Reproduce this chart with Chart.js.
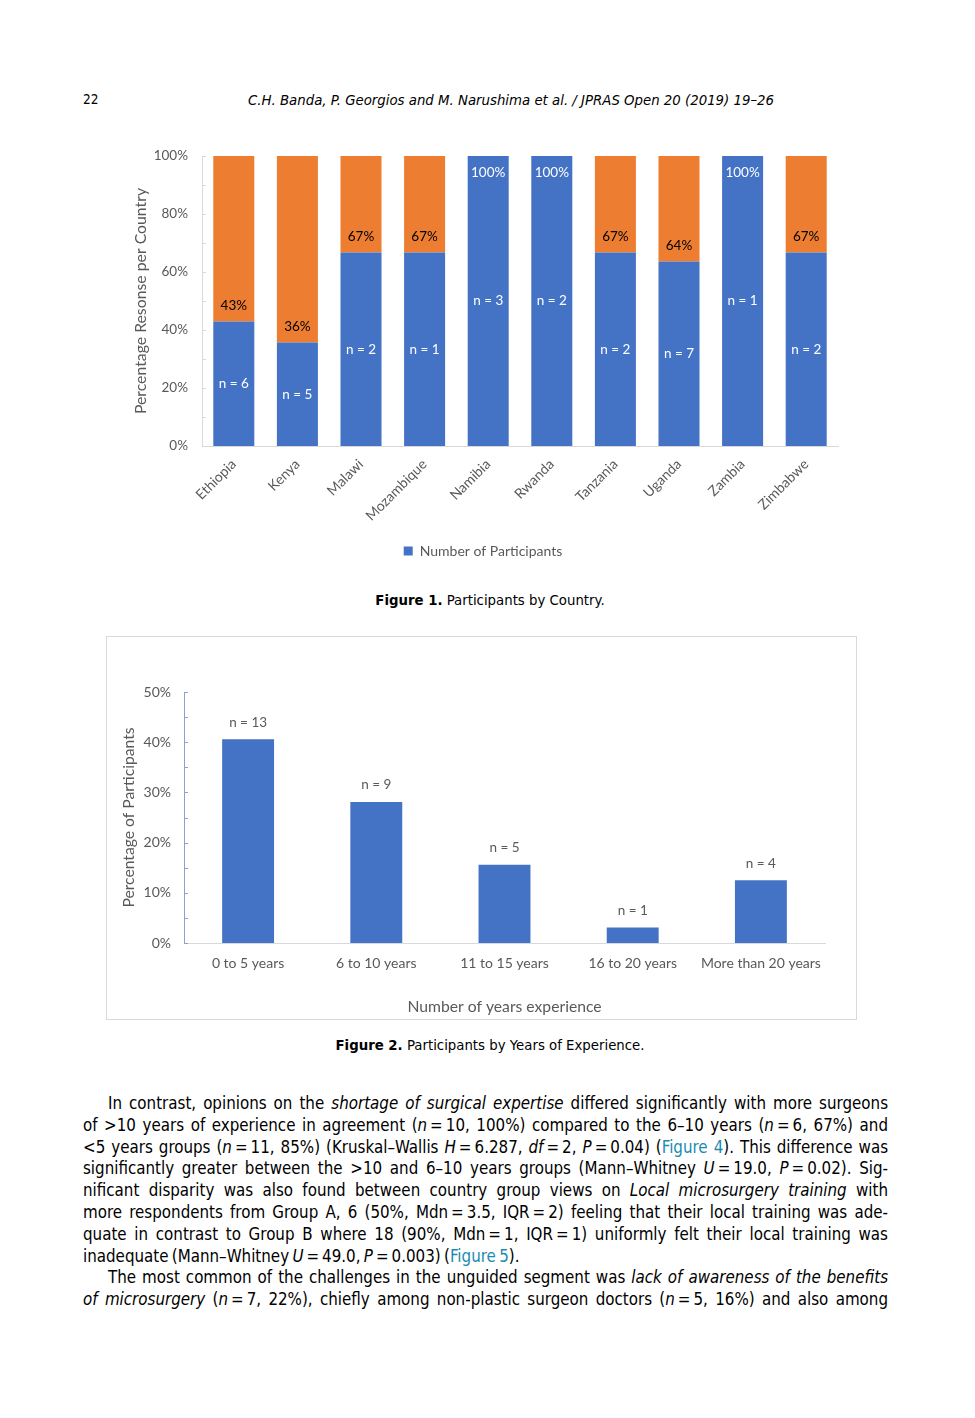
<!DOCTYPE html>
<html>
<head>
<meta charset="utf-8">
<script src="https://cdn.jsdelivr.net/npm/chart.js@4/dist/chart.umd.min.js"></script>
<style>
  html, body { margin: 0; padding: 0; background: #fff; }
  body { width: 975px; height: 1418px; position: relative; font-family: "DejaVu Sans", sans-serif; color: #000; }
  .abs { position: absolute; }
  #pageNum { left: 83px; top: 91px; font: 13.5px "DejaVu Sans Condensed", "DejaVu Sans"; }
  #runHead { left: 0; width: 1022px; top: 91px; text-align: center; font: italic 14.8px "DejaVu Sans Condensed", "DejaVu Sans"; }
  .caption { left: 0; width: 980px; text-align: center; font-size: 13.3px; }
  #chart1Box { left: 100px; top: 130px; width: 760px; height: 438px; }
  #chart2Frame { left: 106px; top: 636px; width: 749px; height: 382px; border: 1px solid #d9d9d9; }
  #chart2Box { left: 106px; top: 636px; width: 751px; height: 384px; }
  #body { left: 83px; top: 1093px; width: 805px; font: 16.8px "DejaVu Sans Condensed", "DejaVu Sans"; line-height: 21.8px; word-spacing: -1.5px; }
  #body .ln { text-align: justify; text-align-last: justify; white-space: nowrap; }
  #body .last { text-align-last: left; }
  #body .ind { padding-left: 25px; }
  #body a { color: #1b8bb0; text-decoration: none; }
</style>
</head>
<body>
<div id="pageNum" class="abs">22</div>
<div id="runHead" class="abs">C.H. Banda, P. Georgios and M. Narushima et al. / JPRAS Open 20 (2019) 19–26</div>

<div id="chart1Box" class="abs"><canvas id="chart1"></canvas></div>
<div class="abs caption" style="top:593px;"><b>Figure 1.</b> Participants by Country.</div>

<div id="chart2Frame" class="abs"></div>
<div id="chart2Box" class="abs"><canvas id="chart2"></canvas></div>
<div class="abs caption" style="top:1038px;"><b>Figure 2.</b> Participants by Years of Experience.</div>

<div id="body" class="abs">
  <div class="ln ind">In contrast, opinions on the <i>shortage of surgical expertise</i> differed significantly with more surgeons</div>
  <div class="ln">of &gt;10 years of experience in agreement (<i>n</i>&thinsp;=&thinsp;10, 100%) compared to the 6–10 years (<i>n</i>&thinsp;=&thinsp;6, 67%) and</div>
  <div class="ln">&lt;5 years groups (<i>n</i>&thinsp;=&thinsp;11, 85%) (Kruskal–Wallis <i>H</i>&thinsp;=&thinsp;6.287, <i>df</i>&thinsp;=&thinsp;2, <i>P</i>&thinsp;=&thinsp;0.04) (<a>Figure 4</a>). This difference was</div>
  <div class="ln">significantly greater between the &gt;10 and 6–10 years groups (Mann–Whitney <i>U</i>&thinsp;=&thinsp;19.0, <i>P</i>&thinsp;=&thinsp;0.02). Sig-</div>
  <div class="ln">nificant disparity was also found between country group views on <i>Local microsurgery training</i> with</div>
  <div class="ln">more respondents from Group A, 6 (50%, Mdn&thinsp;=&thinsp;3.5, IQR&thinsp;=&thinsp;2) feeling that their local training was ade-</div>
  <div class="ln">quate in contrast to Group B where 18 (90%, Mdn&thinsp;=&thinsp;1, IQR&thinsp;=&thinsp;1) uniformly felt their local training was</div>
  <div class="ln last">inadequate (Mann–Whitney <i>U</i>&thinsp;=&thinsp;49.0, <i>P</i>&thinsp;=&thinsp;0.003) (<a>Figure 5</a>).</div>
  <div class="ln ind">The most common of the challenges in the unguided segment was <i>lack of awareness of the benefits</i></div>
  <div class="ln"><i>of microsurgery</i> (<i>n</i>&thinsp;=&thinsp;7, 22%), chiefly among non-plastic surgeon doctors (<i>n</i>&thinsp;=&thinsp;5, 16%) and also among</div>
</div>

<script>
// Figure 1 data
const countries = ['Ethiopia', 'Kenya', 'Malawi', 'Mozambique', 'Namibia', 'Rwanda', 'Tanzania', 'Uganda', 'Zambia', 'Zimbabwe'];
const countryPct = [42.9, 35.7, 66.7, 66.7, 100, 100, 66.7, 63.6, 100, 66.7];
const countryRest = [57.1, 64.3, 33.3, 33.3, 0, 0, 33.3, 36.4, 0, 33.3];
const countryN = [6, 5, 2, 1, 3, 2, 2, 7, 1, 2];
const countryPctLabels = ['43%', '36%', '67%', '67%', '100%', '100%', '67%', '64%', '100%', '67%'];

// Figure 2 data
const yearGroups = ['0 to 5 years', '6 to 10 years', '11 to 15 years', '16 to 20 years', 'More than 20 years'];
const yearPct = [40.6, 28.1, 15.6, 3.1, 12.5];
const yearN = [13, 9, 5, 1, 4];

const BLUE = '#4472C4';
const ORANGE = '#ED7D31';
const GREY_TEXT = '#595959';
const FONT = 'Lato, "Open Sans", sans-serif';

// small tick marks drawn inward from the y axis line
const innerTicks = {
  id: 'innerTicks',
  afterDraw(chart, args, opts) {
    const { ctx } = chart;
    const y = chart.scales.y;
    ctx.save();
    ctx.strokeStyle = opts.color;
    ctx.lineWidth = 1;
    for (let v = y.min; v <= y.max; v += opts.step) {
      const py = Math.round(y.getPixelForValue(v)) + 0.5;
      ctx.beginPath();
      ctx.moveTo(chart.chartArea.left, py);
      ctx.lineTo(chart.chartArea.left + opts.len, py);
      ctx.stroke();
    }
    ctx.restore();
  }
};

// labels for figure 1: n inside blue, % above the split
const countryLabels = {
  id: 'countryLabels',
  afterDatasetsDraw(chart) {
    const { ctx } = chart;
    const bars = chart.getDatasetMeta(0).data;
    ctx.save();
    ctx.font = '13.5px ' + FONT;
    ctx.textAlign = 'center';
    ctx.textBaseline = 'middle';
    bars.forEach((bar, i) => {
      ctx.fillStyle = '#ffffff';
      ctx.fillText('n = ' + countryN[i], bar.x, (bar.y + bar.base) / 2);
      if (countryPct[i] >= 100) {
        ctx.fillText(countryPctLabels[i], bar.x, bar.y + 17);
      } else {
        ctx.fillStyle = '#000000';
        ctx.fillText(countryPctLabels[i], bar.x, bar.y - 16);
      }
    });
    ctx.restore();
  }
};

new Chart(document.getElementById('chart1'), {
  type: 'bar',
  data: {
    labels: countries,
    datasets: [
      { label: 'Number of Participants', data: countryPct, backgroundColor: BLUE, barPercentage: 0.645, categoryPercentage: 1 },
      { label: 'Remaining', data: countryRest, backgroundColor: ORANGE, barPercentage: 0.645, categoryPercentage: 1 }
    ]
  },
  options: {
    responsive: true,
    maintainAspectRatio: false,
    animation: false,
    layout: { padding: { left: 28, top: 26, right: 22, bottom: 0 } },
    scales: {
      x: {
        stacked: true,
        grid: { display: false, drawTicks: false },
        border: { color: '#d9d9d9' },
        ticks: { color: GREY_TEXT, font: { family: FONT, size: 14 }, minRotation: 45, maxRotation: 45, autoSkip: false, padding: 10 },
        afterFit(scale) { scale.height = 88; }
      },
      y: {
        stacked: true,
        min: 0, max: 100,
        grid: { display: false, drawTicks: false },
        border: { color: '#d9d9d9' },
        ticks: { stepSize: 20, color: GREY_TEXT, font: { family: FONT, size: 13.5 }, padding: 14, callback: (v) => v + '%' },
        title: { display: true, text: 'Percentage Resonse per Country', color: GREY_TEXT, font: { family: FONT, size: 15.8 }, padding: { top: 3 } },
        afterFit(scale) { scale.width = 74; }
      }
    },
    plugins: {
      legend: {
        position: 'bottom',
        labels: {
          color: GREY_TEXT,
          font: { family: FONT, size: 14 },
          boxWidth: 9, boxHeight: 9, padding: 10,
          filter: (item) => item.datasetIndex === 0
        }
      },
      tooltip: { enabled: false },
      innerTicks: { color: '#d9d9d9', step: 10, len: 4 }
    }
  },
  plugins: [innerTicks, countryLabels]
});

// n labels above bars for figure 2
const yearLabels = {
  id: 'yearLabels',
  afterDatasetsDraw(chart) {
    const { ctx } = chart;
    ctx.save();
    ctx.font = '13.5px ' + FONT;
    ctx.fillStyle = GREY_TEXT;
    ctx.textAlign = 'center';
    ctx.textBaseline = 'middle';
    chart.getDatasetMeta(0).data.forEach((bar, i) => {
      ctx.fillText('n = ' + yearN[i], bar.x, bar.y - 17);
    });
    ctx.restore();
  }
};

new Chart(document.getElementById('chart2'), {
  type: 'bar',
  data: {
    labels: yearGroups,
    datasets: [{ label: 'Participants', data: yearPct, backgroundColor: BLUE, barPercentage: 0.405, categoryPercentage: 1 }]
  },
  options: {
    responsive: true,
    maintainAspectRatio: false,
    animation: false,
    layout: { padding: { left: 11, top: 56, right: 32, bottom: 0 } },
    scales: {
      x: {
        grid: { display: false, drawTicks: false },
        border: { color: '#d9d9d9' },
        ticks: { color: GREY_TEXT, font: { family: FONT, size: 14 }, padding: 12, maxRotation: 0, autoSkip: false },
        title: { display: true, text: 'Number of years experience', color: GREY_TEXT, font: { family: FONT, size: 15.7 }, padding: { bottom: 4 } },
        afterFit(scale) { scale.height = 77; }
      },
      y: {
        min: 0, max: 50,
        grid: { display: false, drawTicks: false },
        border: { color: '#8EA0D2' },
        ticks: { stepSize: 10, color: GREY_TEXT, font: { family: FONT, size: 14 }, padding: 13, callback: (v) => v + '%' },
        title: { display: true, text: 'Percentage of Participants', color: GREY_TEXT, font: { family: FONT, size: 15.7 }, padding: { top: 3 } },
        afterFit(scale) { scale.width = 67; }
      }
    },
    plugins: {
      legend: { display: false },
      tooltip: { enabled: false },
      innerTicks: { color: '#8EA0D2', step: 5, len: 4 }
    }
  },
  plugins: [innerTicks, yearLabels]
});
</script>
</body>
</html>
